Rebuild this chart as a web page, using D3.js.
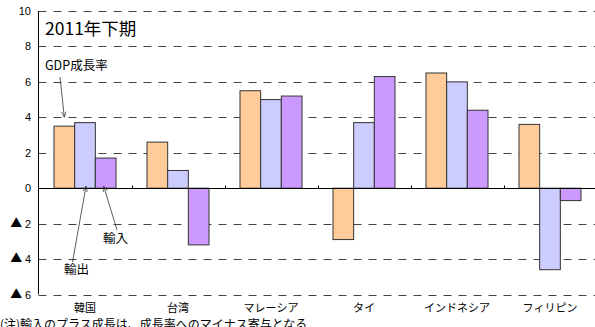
<!DOCTYPE html>
<html>
<head>
<meta charset="utf-8">
<script src="https://cdn.jsdelivr.net/npm/d3@7"></script>
<style>
  body { margin: 0; background: #fff; }
  svg { display: block; }
  text { font-family: "Liberation Sans", "Noto Sans CJK JP", sans-serif; fill: #000; }
  .jp { font-family: "Noto Sans CJK JP", "Liberation Sans", sans-serif; }
</style>
</head>
<body>
<svg id="chart" width="595" height="327"></svg>
<script>
const countries = ['韓国', '台湾', 'マレーシア', 'タイ', 'インドネシア', 'フィリピン'];
const seriesNames = ['GDP成長率', '輸出', '輸入'];
const gdp = [3.5, 2.6, 5.5, -2.9, 6.5, 3.6];
const exportsVal = [3.7, 1.0, 5.0, 3.7, 6.0, -4.6];
const importsVal = [1.7, -3.2, 5.2, 6.3, 4.4, -0.7];
const yTicks = [10, 8, 6, 4, 2, 0, -2, -4, -6];
const colors = ['#ffcc99', '#ccccff', '#cc99ff'];

const svg = d3.select('#chart');
const plotLeft = 38.5, plotTop = 11, plotBottom = 294.5;

const x0 = d3.scaleBand()
  .domain(countries)
  .range([plotLeft, plotLeft + 6 * 93]);

const bw = x0.bandwidth();
const x1 = d3.scaleBand()
  .domain(seriesNames)
  .range([bw / 6, bw * 5 / 6]);

const y = d3.scaleLinear()
  .domain([-6, 10])
  .range([plotBottom, plotTop]);

// dashed gridlines
svg.append('g')
  .selectAll('line')
  .data(yTicks.filter(d => d !== 0))
  .join('line')
  .attr('x1', plotLeft)
  .attr('x2', 595)
  .attr('y1', d => Math.round(y(d)) + 0.5)
  .attr('y2', d => Math.round(y(d)) + 0.5)
  .attr('stroke', '#444')
  .attr('stroke-width', 1)
  .attr('stroke-dasharray', '8,7');

// y tick labels (negative values shown with ▲)
const tickText = svg.append('g')
  .selectAll('text')
  .data(yTicks)
  .join('text')
  .attr('x', 31)
  .attr('y', d => Math.round(y(d)) + 4)
  .attr('text-anchor', 'end')
  .attr('font-size', '11px');

tickText.filter(d => d < 0)
  .append('tspan')
  .attr('class', 'jp')
  .attr('font-size', '12px')
  .text('▲\u00a0');

tickText.append('tspan')
  .text(d => Math.abs(d));

// bars
const series = [gdp, exportsVal, importsVal];
const rows = [];
countries.forEach((c, i) => {
  seriesNames.forEach((s, j) => rows.push({ c, s, j, v: series[j][i] }));
});

svg.append('g')
  .selectAll('rect')
  .data(rows)
  .join('rect')
  .attr('x', d => x0(d.c) + x1(d.s))
  .attr('y', d => y(Math.max(0, d.v)))
  .attr('width', x1.bandwidth())
  .attr('height', d => Math.abs(y(d.v) - y(0)))
  .attr('fill', d => colors[d.j])
  .attr('stroke', '#333')
  .attr('stroke-width', 1);

// zero line with category ticks
const zeroY = Math.round(y(0)) + 0.5;
svg.append('line')
  .attr('x1', plotLeft).attr('x2', 595)
  .attr('y1', zeroY).attr('y2', zeroY)
  .attr('stroke', '#000');

svg.append('g')
  .selectAll('line')
  .data(countries.slice(1))
  .join('line')
  .attr('x1', d => Math.round(x0(d)) + 0.5)
  .attr('x2', d => Math.round(x0(d)) + 0.5)
  .attr('y1', zeroY)
  .attr('y2', zeroY - 3)
  .attr('stroke', '#000');

// left axis
svg.append('line')
  .attr('x1', plotLeft).attr('x2', plotLeft)
  .attr('y1', plotTop).attr('y2', plotBottom)
  .attr('stroke', '#000');

// category labels
svg.append('g')
  .selectAll('text')
  .data(countries)
  .join('text')
  .attr('class', 'jp')
  .attr('x', d => x0(d) + bw / 2)
  .attr('y', 312)
  .attr('text-anchor', 'middle')
  .attr('font-size', '11px')
  .text(d => d);

// title
svg.append('text')
  .attr('x', 45)
  .attr('y', 35)
  .attr('font-size', '17.5px')
  .attr('class', 'jp')
  .text('2011年下期');

// annotations with arrows
svg.append('defs').append('marker')
  .attr('id', 'arr')
  .attr('viewBox', '0 0 10 10')
  .attr('refX', 10).attr('refY', 5)
  .attr('markerWidth', 7).attr('markerHeight', 7)
  .attr('orient', 'auto')
  .append('path')
  .attr('d', 'M0,1 L10,5 L0,9')
  .attr('fill', 'none')
  .attr('stroke', '#333')
  .attr('stroke-width', 1.2);

const barCenter = (c, s) => x0(c) + x1(s) + x1.bandwidth() / 2;

const notes = [
  { text: 'GDP成長率', tx: 45, ty: 70, x1: 60, y1: 77, x2: barCenter('韓国', 'GDP成長率'), y2: y(4) },
  { text: '輸出', tx: 64, ty: 274, x1: 72.5, y1: 262, x2: barCenter('韓国', '輸出') + 1, y2: y(0) - 2 },
  { text: '輸入', tx: 103, ty: 243, x1: 117, y1: 230, x2: barCenter('韓国', '輸入') - 2, y2: y(0) - 2 }
];

svg.append('g')
  .selectAll('line')
  .data(notes)
  .join('line')
  .attr('x1', d => d.x1).attr('y1', d => d.y1)
  .attr('x2', d => d.x2).attr('y2', d => d.y2)
  .attr('stroke', '#333')
  .attr('stroke-width', 0.8)
  .attr('marker-end', 'url(#arr)');

svg.append('g')
  .selectAll('text')
  .data(notes)
  .join('text')
  .attr('class', 'jp')
  .attr('x', d => d.tx)
  .attr('y', d => d.ty)
  .attr('font-size', '12.5px')
  .text(d => d.text);

// footnote (cut off at the bottom edge as in the reference)
svg.append('text')
  .attr('class', 'jp')
  .attr('x', 0)
  .attr('y', 329)
  .attr('font-size', '12px')
  .text('(注)輸入のプラス成長は、成長率へのマイナス寄与となる');
</script>
</body>
</html>
